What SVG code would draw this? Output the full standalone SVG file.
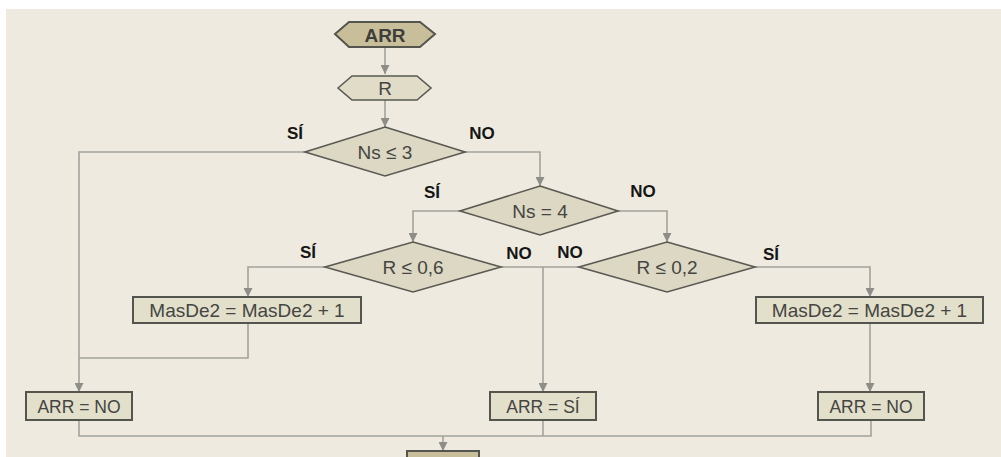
<svg xmlns="http://www.w3.org/2000/svg" width="1001" height="457" viewBox="0 0 1001 457">
<defs>
<style>
.bg{fill:#eeeae0}
.dia{fill:#dcd8c4;stroke:#5a5a52;stroke-width:1.6}
.box{fill:#e2dfcb;stroke:#55554f;stroke-width:2}
.hexd{fill:#c8be9a;stroke:#55554f;stroke-width:2}
.hexl{fill:#e0dcc8;stroke:#5a5a52;stroke-width:1.6}
.con{fill:none;stroke:#a3a29c;stroke-width:1.6}
.t{font-family:"Liberation Sans",Arial,sans-serif;font-size:19px;fill:#454541;text-anchor:middle}
.tb{font-family:"Liberation Sans",Arial,sans-serif;font-size:19px;font-weight:bold;fill:#3e3e3a;text-anchor:middle}
.lab{font-family:"Liberation Sans",Arial,sans-serif;font-size:17px;font-weight:bold;fill:#151515;text-anchor:middle}
</style>
<marker id="ar" viewBox="0 0 10 10" refX="10" refY="5" markerWidth="9" markerHeight="9" markerUnits="userSpaceOnUse" orient="auto">
<path d="M0,0 L10,5 L0,10 Z" fill="#8e8d88"/>
</marker>
</defs>
<rect x="0" y="0" width="1001" height="457" fill="#ffffff"/>
<rect class="bg" x="6" y="9" width="995" height="448"/>

<g id="connectors">
<path class="con" d="M385,48 V74" marker-end="url(#ar)"/>
<path class="con" d="M385,100 V127" marker-end="url(#ar)"/>
<path class="con" d="M305,152 H79 V392" marker-end="url(#ar)"/>
<path class="con" d="M465,152 H540 V186" marker-end="url(#ar)"/>
<path class="con" d="M460,211 H413 V242" marker-end="url(#ar)"/>
<path class="con" d="M618,211 H667 V242" marker-end="url(#ar)"/>
<path class="con" d="M325,267 H248 V297" marker-end="url(#ar)"/>
<path class="con" d="M248,323 V358 H79"/>
<path class="con" d="M501,267 H579"/>
<path class="con" d="M543,267 V392" marker-end="url(#ar)"/>
<path class="con" d="M755,267 H870 V297" marker-end="url(#ar)"/>
<path class="con" d="M870,323 V392" marker-end="url(#ar)"/>
<path class="con" d="M79,420 V436 H871 V420"/>
<path class="con" d="M543,420 V436"/>
<path class="con" d="M443,436 V451" marker-end="url(#ar)"/>
</g>

<g id="labels">
<text class="lab" x="295" y="139">SÍ</text>
<text class="lab" x="482" y="139">NO</text>
<text class="lab" x="432" y="198">SÍ</text>
<text class="lab" x="643" y="197">NO</text>
<text class="lab" x="308" y="258">SÍ</text>
<text class="lab" x="519" y="259">NO</text>
<text class="lab" x="570" y="258">NO</text>
<text class="lab" x="771" y="260">SÍ</text>
</g>

<g id="n_start">
<polygon class="hexd" points="335,34 349,22 420,22 435,34 420,47 349,47"/>
<text class="tb" x="385" y="41.5">ARR</text>
</g>
<g id="n_r">
<polygon class="hexl" points="338,88 352,76 417,76 431,88 417,100 352,100"/>
<text class="t" x="385" y="95">R</text>
</g>
<g id="n_ns3">
<polygon class="dia" points="385,127 465,152 385,176 305,152"/>
<text class="t" x="385" y="158.5">Ns ≤ 3</text>
</g>
<g id="n_ns4">
<polygon class="dia" points="540,186 618,211 540,235 460,211"/>
<text class="t" x="540" y="217.5">Ns = 4</text>
</g>
<g id="n_r06">
<polygon class="dia" points="413,242 501,267 413,292 325,267"/>
<text class="t" x="413" y="273.5">R ≤ 0,6</text>
</g>
<g id="n_r02">
<polygon class="dia" points="667,242 755,267 667,292 579,267"/>
<text class="t" x="667" y="273.5">R ≤ 0,2</text>
</g>
<g id="n_mas1">
<rect class="box" x="133" y="297" width="228" height="26"/>
<text class="t" x="247" y="317">MasDe2 = MasDe2 + 1</text>
</g>
<g id="n_mas2">
<rect class="box" x="756" y="297" width="227" height="26"/>
<text class="t" x="869.5" y="317">MasDe2 = MasDe2 + 1</text>
</g>
<g id="n_arrno1">
<rect class="box" x="26" y="392" width="106" height="28"/>
<text class="t" x="79" y="413" style="font-size:17.5px">ARR = NO</text>
</g>
<g id="n_arrsi">
<rect class="box" x="490" y="392" width="106" height="28"/>
<text class="t" x="543" y="413" style="font-size:17.5px">ARR = SÍ</text>
</g>
<g id="n_arrno2">
<rect class="box" x="818" y="392" width="106" height="28"/>
<text class="t" x="871" y="413" style="font-size:17.5px">ARR = NO</text>
</g>
<g id="n_end">
<rect class="hexd" x="407" y="451" width="72" height="12"/>
</g>
</svg>
